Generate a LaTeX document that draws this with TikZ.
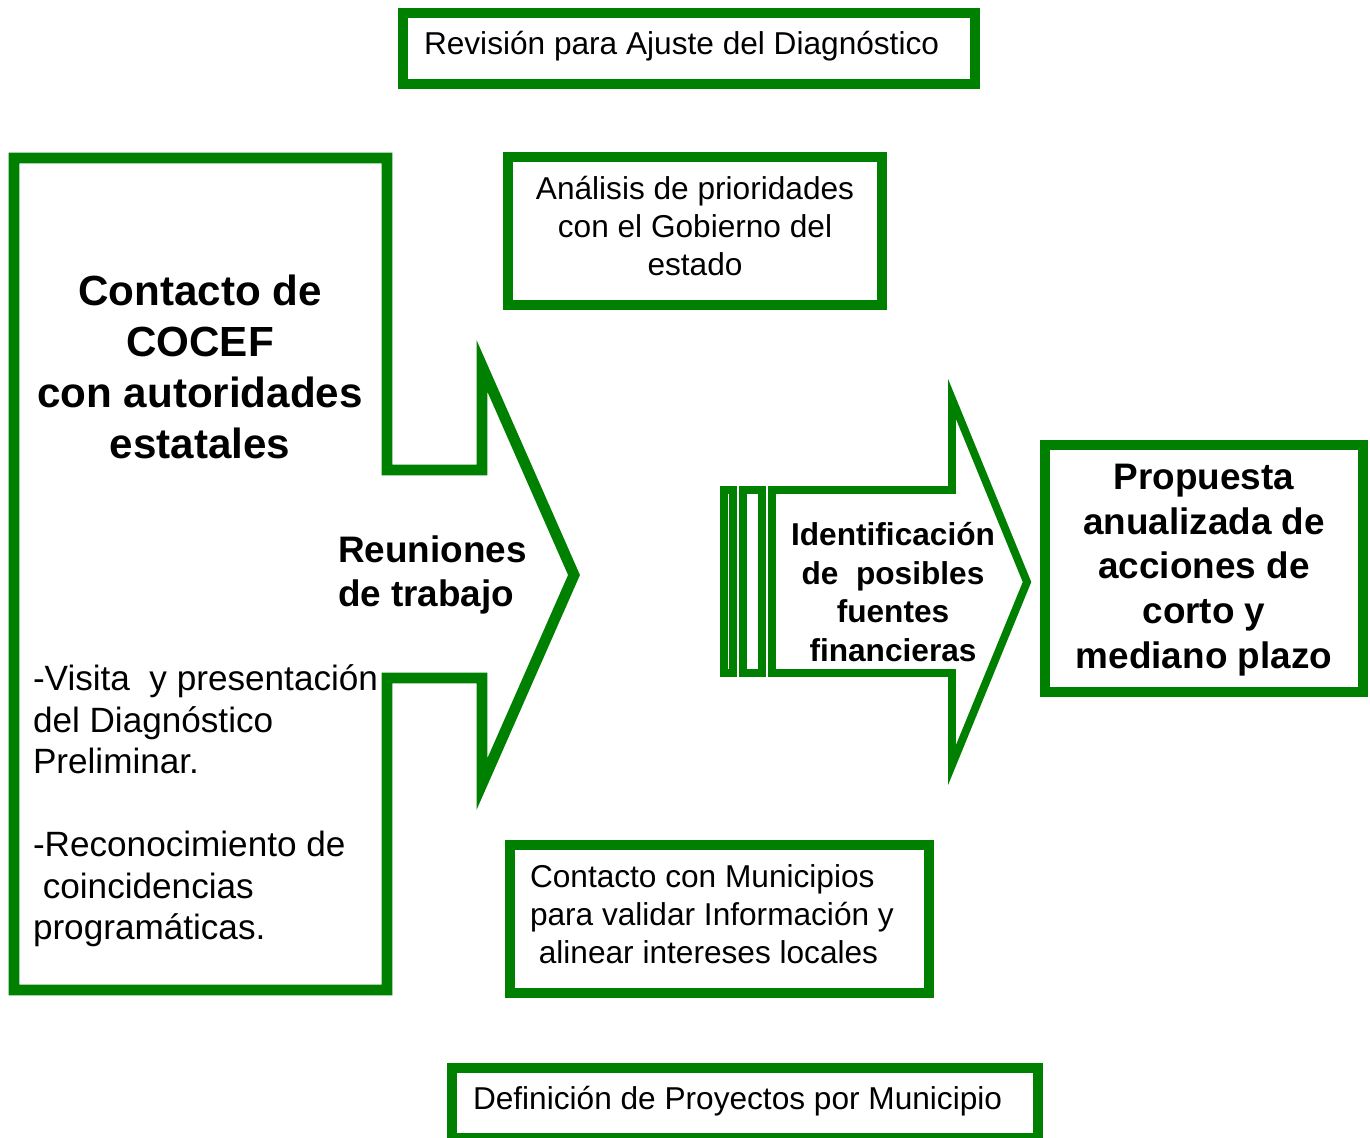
\documentclass[tikz,border=0pt]{standalone}
\usepackage{fontspec}
\setmainfont{Liberation Sans}
\usepackage{tikz}
\usepackage{xcolor}
\usetikzlibrary{positioning}
\definecolor{cocefgreen}{RGB}{0,128,0}
\newcommand{\boxfont}{\fontsize{18}{21.5}\selectfont}
\newcommand{\listfont}{\fontsize{20}{23.6}\selectfont}
\newcommand{\headfont}{\fontsize{24}{28.9}\selectfont\bfseries}
\newcommand{\midfont}{\fontsize{21}{25.4}\selectfont\bfseries}
\newcommand{\arrowfont}{\fontsize{18}{22}\selectfont\bfseries}
\tikzset{
    greenbox/.style={draw=cocefgreen, line width=5.67pt},
    bigline/.style={draw=cocefgreen, line width=6.2pt},
    stripeline/.style={draw=cocefgreen, line width=4.5pt},
    label/.style={inner sep=0pt, outer sep=0pt}
}

\begin{document}
\begin{tikzpicture}[x=0.02cm, y=-0.02cm]
    \useasboundingbox (0, 0) rectangle (1370, 1138);
    \begin{scope}[shift={(403, 13)}]
        \draw[greenbox] (0, 0) -- (572, 0) -- (572, 71) -- (0, 71) -- cycle;
        \node[label, anchor=west, font=\boxfont] (revision) at (21, 33) {Revisión para Ajuste del Diagnóstico};
    \end{scope}
    \begin{scope}[shift={(508, 157)}]
        \draw[greenbox] (0, 0) -- (374, 0) -- (374, 148) -- (0, 148) -- cycle;
        \node[label, align=center, font=\boxfont] (analisis) at (187, 69) {Análisis de prioridades\\con el Gobierno del\\estado};
    \end{scope}
    \begin{scope}[shift={(1045, 445)}]
        \draw[greenbox] (0, 0) -- (318, 0) -- (318, 247) -- (0, 247) -- cycle;
        \node[label, align=center, font=\midfont] (propuesta) at (159, 125) {Propuesta\\anualizada de\\acciones de\\corto y\\mediano plazo};
    \end{scope}
    \begin{scope}[shift={(510, 845)}]
        \draw[greenbox] (0, 0) -- (419, 0) -- (419, 148) -- (0, 148) -- cycle;
        \node[label, anchor=west, align=left, font=\boxfont] (municipios) at (20, 69) {Contacto con Municipios\\para validar Información y\\\hspace*{0.28em}alinear intereses locales};
    \end{scope}
    \begin{scope}[shift={(452, 1068)}]
        \draw[greenbox] (0, 0) -- (586, 0) -- (586, 70) -- (0, 70) -- cycle;
        \node[label, anchor=west, font=\boxfont] (definicion) at (21, 33) {Definición de Proyectos por Municipio};
    \end{scope}
    \draw[bigline] (14, 158) -- (387, 158) -- (387, 470) -- (482, 470) -- (482, 366)
        -- (574, 575) -- (482, 784) -- (482, 678) -- (387, 678) -- (387, 990) -- (14, 990) -- cycle;
    \node[label, align=center, font=\headfont] (contacto) at (200, 367) {Contacto de\\COCEF\\con autoridades\\estatales};
    \node[label, anchor=west, align=left, font=\midfont] (reuniones) at (338, 575) {Reuniones\\de trabajo};
    \node[label, anchor=west, align=left, font=\listfont] (visita) at (33, 806) {-Visita\ \ y presentación\\del Diagnóstico\\Preliminar.\\[23.6pt]-Reconocimiento de\\\hspace*{0.28em}coincidencias\\programáticas.};
    \draw[stripeline] (724, 490) -- (733, 490) -- (733, 673) -- (724, 673) -- cycle;
    \draw[stripeline] (743, 490) -- (762, 490) -- (762, 673) -- (743, 673) -- cycle;
    \draw[stripeline] (772, 490) -- (952, 490) -- (952, 399) -- (1027, 582)
        -- (952, 765) -- (952, 673) -- (772, 673) -- cycle;
    \node[label, align=center, font=\arrowfont] (fuentes) at (893, 592) {Identificación\\de\ \ posibles\\fuentes\\financieras};
\end{tikzpicture}
\end{document}
